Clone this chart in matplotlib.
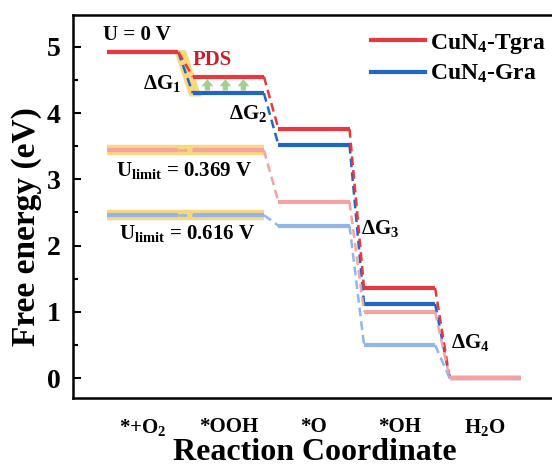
import matplotlib
matplotlib.use("Agg")
import matplotlib.pyplot as plt
from matplotlib.patches import Polygon

plt.rcParams['font.family'] = ['Liberation Serif', 'DejaVu Serif']
plt.rcParams['font.weight'] = 'bold'
plt.rcParams['mathtext.fontset'] = 'custom'
plt.rcParams['mathtext.rm'] = 'Liberation Serif:bold'
plt.rcParams['mathtext.it'] = 'Liberation Serif:bold'
plt.rcParams['mathtext.bf'] = 'Liberation Serif:bold'

# ---- data ----
steps = ['*+O$_2$', '*OOH', '*O', '*OH', 'H$_2$O']
tgra = [4.92, 4.55, 3.76, 1.36, 0.0]
gra = [4.92, 4.30, 3.52, 1.12, 0.0]
tgra_ulim = [3.44, 3.44, 2.66, 1.00, 0.0]
gra_ulim = [2.46, 2.46, 2.30, 0.50, 0.0]
u_tgra = 0.369
u_gra = 0.616

RED = '#E8383D'
BLUE = '#1F66C8'
LRED = '#F4A3A3'
LBLUE = '#90B6EA'
YEL = '#F8D77E'
GREEN = '#A3D08F'

W = 0.83  # plateau width

fig = plt.figure(figsize=(5.52, 4.68), dpi=100)
ax = fig.add_axes([73/552, 1-398/468, 1-73/552+0.01, (398-15)/468])
ax.set_xlim(-0.40, 5.26)
ax.set_ylim(-0.30, 5.48)

def draw(vals, color, z, lw=3.0):
    for i, v in enumerate(vals):
        ax.plot([i, i+W], [v, v], color=color, lw=lw, solid_capstyle='butt', zorder=z)
        if i < len(vals)-1:
            ax.plot([i+W, i+1], [v, vals[i+1]], color=color, lw=1.8,
                    ls=(0, (3.5, 2.0)), zorder=z)

# yellow highlight bands for limiting levels
for vals in (tgra_ulim, gra_ulim):
    ax.plot([0, 1+W], [vals[0], vals[1]], color=YEL, lw=7.5, solid_capstyle='butt', zorder=1)

# yellow parallelogram for dG1
poly = Polygon([(0.78, 4.95), (0.92, 4.95), (1.10, 4.25), (0.96, 4.25)],
               closed=True, color=YEL, lw=0, zorder=1)
ax.add_patch(poly)

draw(gra, BLUE, 3)
draw(tgra, RED, 4)
draw(gra_ulim, LBLUE, 5)
draw(tgra_ulim, LRED, 6)

# green arrows between OOH levels
for xa in (1.17, 1.38, 1.59):
    ax.annotate('', xy=(xa, tgra[1]-0.04), xytext=(xa, gra[1]+0.04),
                arrowprops=dict(arrowstyle='simple,head_width=0.85,head_length=0.5,tail_width=0.38',
                                color=GREEN, lw=0, mutation_scale=10,
                                shrinkA=0, shrinkB=0), zorder=2)

# legend
ax.plot([], [], color=RED, lw=3, label='CuN$_4$-Tgra')
ax.plot([], [], color=BLUE, lw=3, label='CuN$_4$-Gra')
leg = ax.legend(loc='upper right', bbox_to_anchor=(550/552, 1-27/468), bbox_transform=fig.transFigure,
                frameon=False, fontsize=17, handlelength=2.3, handletextpad=0.2,
                labelspacing=0.3, borderaxespad=0, borderpad=0.2)

# annotations
tk = dict(fontsize=15, fontweight='bold', color='black')
ax.text(-0.05, 5.18, 'U = 0 V', ha='left', va='center', **tk)
ax.text(1.0, 4.80, 'PDS', ha='left', va='center', color='#C8202A', fontsize=15, fontweight='bold')
ax.text(0.42, 4.45, r'$\Delta$G$_1$', ha='left', va='center', **tk)
ax.text(1.42, 4.00, r'$\Delta$G$_2$', ha='left', va='center', **tk)
ax.text(2.97, 2.26, r'$\Delta$G$_3$', ha='left', va='center', **tk)
ax.text(4.02, 0.54, r'$\Delta$G$_4$', ha='left', va='center', **tk)
ax.text(0.90, 3.13, r'U$_{\rm limit}$ = %.3f V' % u_tgra, ha='center', va='center', **tk)
ax.text(0.93, 2.18, r'U$_{\rm limit}$ = %.3f V' % u_gra, ha='center', va='center', **tk)

# axes styling
ax.set_xticks([i + W/2 for i in range(len(steps))])
ax.set_xticklabels(steps, fontsize=15, fontweight='bold')
ax.tick_params(axis='x', length=0, pad=14)
ax.set_yticks([0, 1, 2, 3, 4, 5])
ax.set_yticks([0.5, 1.5, 2.5, 3.5, 4.5], minor=True)
ax.tick_params(axis='y', which='major', direction='in', length=6, width=1.5, labelsize=20, pad=9)
ax.tick_params(axis='y', which='minor', direction='in', length=3.5, width=1.5)
for lab in ax.get_yticklabels():
    lab.set_fontweight('bold')
for s in ax.spines.values():
    s.set_linewidth(1.8)
ax.spines['right'].set_visible(False)
ax.set_xlabel('Reaction Coordinate', fontsize=23, fontweight='bold', labelpad=0)
ax.set_ylabel('Free energy (eV)', fontsize=24, fontweight='bold', ha='center', va='center')
ax.yaxis.set_label_coords((27-73)/479, (398-227)/383)

fig.savefig('out.png', dpi=100)
